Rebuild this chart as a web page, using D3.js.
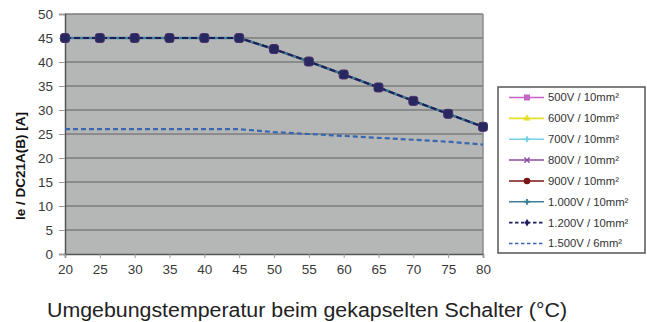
<!DOCTYPE html>
<html><head><meta charset="utf-8">
<script src="https://cdn.jsdelivr.net/npm/d3@7"></script>
<style>body{margin:0;background:#fff}svg{display:block;font-family:"Liberation Sans",Arial,sans-serif}</style>
</head><body><svg id="c" width="647" height="322"></svg>
<script>
const temps = [20,25,30,35,40,45,50,55,60,65,70,75,80];
const yTicks = [0,5,10,15,20,25,30,35,40,45,50];
const seriesNames = ["500V / 10mm²","600V / 10mm²","700V / 10mm²","800V / 10mm²","900V / 10mm²","1.000V / 10mm²","1.200V / 10mm²","1.500V / 6mm²"];
const v500  = [45,45,45,45,45,45,42.7,40.1,37.4,34.7,31.9,29.2,26.5];
const v600  = [45,45,45,45,45,45,42.7,40.1,37.4,34.7,31.9,29.2,26.5];
const v700  = [45,45,45,45,45,45,42.7,40.1,37.4,34.7,31.9,29.2,26.5];
const v800  = [45,45,45,45,45,45,42.7,40.1,37.4,34.7,31.9,29.2,26.5];
const v900  = [45,45,45,45,45,45,42.7,40.1,37.4,34.7,31.9,29.2,26.5];
const v1000 = [45,45,45,45,45,45,42.7,40.1,37.4,34.7,31.9,29.2,26.5];
const v1200 = [45,45,45,45,45,45,42.7,40.1,37.4,34.7,31.9,29.2,26.5];
const v1500 = [26,26,26,26,26,26,25.4,25.0,24.6,24.2,23.8,23.4,22.8];
const xTitle = "Umgebungstemperatur beim gekapselten Schalter (°C)";
const yTitle = "Ie / DC21A(B) [A]";

const styles = [
  {c:"#c464c4", dash:null, m:"square", w:2},
  {c:"#e6de2a", dash:null, m:"triangle", w:2},
  {c:"#74d2e2", dash:null, m:"cross", w:2},
  {c:"#8a4aa0", dash:null, m:"x", w:2},
  {c:"#7a1616", dash:null, m:"circle", w:2},
  {c:"#3a7f96", dash:null, m:"plus", w:2.4},
  {c:"#1d1d5e", dash:"6,3", m:"diamond", w:2},
  {c:"#3a66b0", dash:"5,3", m:"none", w:2.2}
];
const data = [v500,v600,v700,v800,v900,v1000,v1200,v1500];

const svg = d3.select("#c");
const L=65,R=483,T=14,B=254;
const x = d3.scaleLinear().domain([20,80]).range([L,R]);
const y = d3.scaleLinear().domain([0,50]).range([B,T]);

svg.append("rect").attr("x",L).attr("y",T).attr("width",R-L).attr("height",B-T).attr("fill","#b5b7b6");
svg.append("g").selectAll("line").data(yTicks.filter(d=>d>0)).join("line")
  .attr("x1",L).attr("x2",R).attr("y1",d=>y(d)).attr("y2",d=>y(d))
  .attr("stroke","#7c7e7d").attr("stroke-width",1.5);
svg.append("line").attr("x1",R).attr("x2",R).attr("y1",T).attr("y2",B).attr("stroke","#8a8c8b").attr("stroke-width",1.5);

const ya = svg.append("g").attr("transform",`translate(${L},0)`)
  .call(d3.axisLeft(y).tickValues(yTicks).tickSize(6).tickPadding(6));
const xa = svg.append("g").attr("transform",`translate(0,${B})`)
  .call(d3.axisBottom(x).tickValues(temps).tickSize(4).tickPadding(6));
[ya,xa].forEach(a=>{
  a.select(".domain").attr("stroke","#555").attr("stroke-width",1.5);
  a.selectAll(".tick line").attr("stroke","#999");
  a.selectAll("text").attr("fill","#3a3a3a").style("font-size","13.5px");
});

const line = d3.line().x((d,i)=>x(temps[i])).y(d=>y(d));
data.forEach((s,k)=>{
  const st=styles[k];
  svg.append("path").datum(s).attr("d",line).attr("fill","none")
    .attr("stroke",st.c).attr("stroke-width",st.w)
    .attr("stroke-dasharray",st.dash);
});
svg.append("g").selectAll("rect").data(v1200).join("rect")
  .attr("x",(d,i)=>x(temps[i])-4.5).attr("y",d=>y(d)-4.5)
  .attr("width",9).attr("height",9).attr("rx",2.5)
  .attr("fill","#27285f").attr("stroke","#4a2f6a").attr("stroke-width",1);

const lg = svg.append("g");
lg.append("rect").attr("x",498).attr("y",87).attr("width",147).attr("height",166)
  .attr("fill","#fff").attr("stroke","#555").attr("stroke-width",1.5);
const ly = d3.scaleLinear().domain([0,7]).range([97.5,243.5]);
seriesNames.forEach((n,k)=>{
  const st=styles[k], yy=ly(k);
  lg.append("line").attr("x1",509).attr("x2",544).attr("y1",yy).attr("y2",yy)
    .attr("stroke",st.c).attr("stroke-width",1.6).attr("stroke-dasharray",st.dash?"3.5,2.5":null);
  const cx=527;
  if(st.m==="square") lg.append("rect").attr("x",cx-3).attr("y",yy-3).attr("width",6).attr("height",6).attr("fill",st.c);
  else if(st.m==="triangle") lg.append("path").attr("d",d3.symbol(d3.symbolTriangle,22)()).attr("transform",`translate(${cx},${yy})`).attr("fill",st.c);
  else if(st.m==="circle") lg.append("circle").attr("cx",cx).attr("cy",yy).attr("r",3.3).attr("fill",st.c);
  else if(st.m==="diamond") lg.append("path").attr("d",d3.symbol(d3.symbolDiamond,18)()).attr("transform",`translate(${cx},${yy})`).attr("fill",st.c);
  else if(st.m==="x") lg.append("path").attr("d",d3.symbol(d3.symbolTimes,20)()).attr("transform",`translate(${cx},${yy})`).attr("stroke",st.c).attr("fill","none").attr("stroke-width",1.3);
  else if(st.m==="cross"||st.m==="plus") lg.append("path").attr("d",d3.symbol(d3.symbolCross,18)()).attr("transform",`translate(${cx},${yy})`).attr("fill",st.c);
  lg.append("text").attr("x",548).attr("y",yy).attr("dy","0.35em")
    .style("font-size","11.3px").attr("fill","#333").text(n);
});

svg.append("text").attr("x",307).attr("y",317).attr("text-anchor","middle")
  .attr("textLength",520).attr("lengthAdjust","spacingAndGlyphs")
  .style("font-size","20px").attr("fill","#222").text(xTitle);
svg.append("text").attr("transform","translate(25,166) rotate(-90)").attr("text-anchor","middle")
  .style("font-size","13.5px").style("font-weight","bold").attr("fill","#111").text(yTitle);
</script></body></html>
